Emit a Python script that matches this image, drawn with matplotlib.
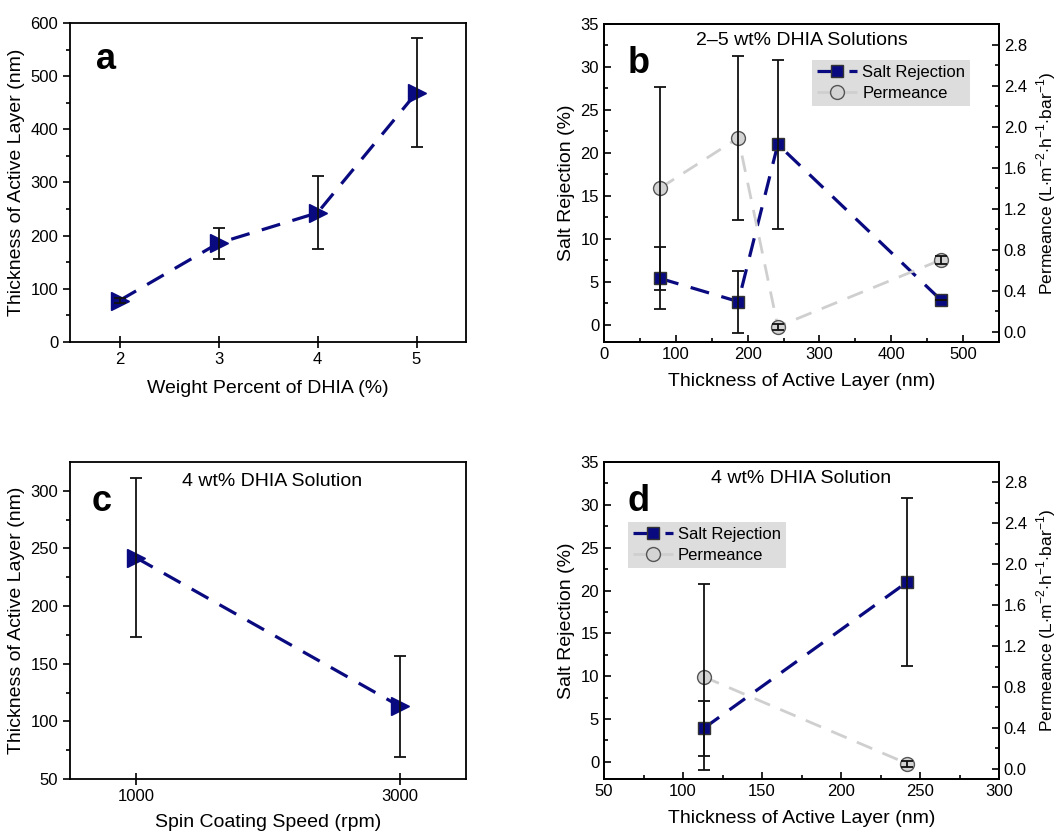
import numpy as np
import matplotlib
matplotlib.use('Agg')
import matplotlib.pyplot as plt

plt.rcParams['font.family'] = ['Liberation Sans', 'DejaVu Sans']
plt.rcParams['font.size'] = 12
plt.rcParams['mathtext.fontset'] = 'custom'
plt.rcParams['mathtext.rm'] = 'Liberation Sans'

navy = '#0a0a80'
grey_line = '#cfcfcf'
grey_fill = '#d4d4d4'

# panel a
wt = [2, 3, 4, 5]
thick_a = [78, 186, 243, 469]
thick_a_err = [4, 29, 69, 103]

# panel b
b_x = [78, 187, 242, 469]
b_rej = [5.4, 2.7, 21.0, 2.9]
b_rej_err = [3.6, 3.6, 9.8, 0.0]
b_perm = [1.40, 1.89, 0.05, 0.70]
b_perm_err = [0.99, 0.80, 0.03, 0.04]

# panel c
speed = [1000, 3000]
thick_c = [242, 113]
thick_c_err = [69, 44]

# panel d
d_x = [113, 242]
d_rej = [3.9, 21.0]
d_rej_err = [3.2, 9.8]
d_perm = [0.90, 0.05]
d_perm_err = [0.91, 0.03]

fig = plt.figure(figsize=(10.56, 8.32), dpi=100)
W, H = 1056, 832
def place(l, t, r, b):
    return fig.add_axes([l / W, 1 - b / H, (r - l) / W, (b - t) / H])

axa = place(70, 23, 466, 342)
axb = place(604, 24, 999, 342)
axc = place(70, 462, 466, 779)
axd = place(604, 462, 999, 779)

TICK = 12
LAB = 14

def thick_panel(ax, x, y, err):
    ax.errorbar(x, y, yerr=err, fmt='none', ecolor='#111111', elinewidth=1.3, capsize=4, capthick=1.3, zorder=4)
    ax.plot(x, y, ls=(0, (6, 4)), color=navy, lw=2.3, marker='>', ms=13,
            mfc=navy, mec=navy, zorder=3)
    ax.tick_params(direction='out', length=5, width=1.2, labelsize=TICK)
    ax.tick_params(which='minor', direction='out', length=3, width=1.2)
    for s in ax.spines.values():
        s.set_linewidth(1.3)

thick_panel(axa, wt, thick_a, thick_a_err)
axa.set_xlim(1.5, 5.5)
axa.set_ylim(0, 600)
axa.set_xticks(wt)
axa.set_yticks(np.arange(0, 601, 100))
axa.set_yticks(np.arange(50, 600, 100), minor=True)
axa.tick_params(axis='x', direction='inout', length=8)
axa.set_xlabel('Weight Percent of DHIA (%)', fontsize=LAB, labelpad=9)
axa.set_ylabel('Thickness of Active Layer (nm)', fontsize=LAB)
axa.text(0.065, 0.94, 'a', transform=axa.transAxes, fontsize=26, fontweight='bold', va='top')

thick_panel(axc, speed, thick_c, thick_c_err)
axc.set_xlim(500, 3500)
axc.set_ylim(50, 325)
axc.set_xticks(speed)
axc.set_yticks(np.arange(50, 301, 50))
axc.set_yticks(np.arange(75, 325, 50), minor=True)
axc.tick_params(axis='x', direction='inout', length=8)
axc.set_xlabel('Spin Coating Speed (rpm)', fontsize=LAB, labelpad=7)
axc.set_ylabel('Thickness of Active Layer (nm)', fontsize=LAB)
axc.text(0.055, 0.93, 'c', transform=axc.transAxes, fontsize=26, fontweight='bold', va='top')
axc.text(0.51, 0.965, '4 wt% DHIA Solution', transform=axc.transAxes, fontsize=LAB, ha='center', va='top')

def perf_panel(ax, x, rej, rej_err, perm, perm_err, letter, title, leg_anchor):
    ax2 = ax.twinx()
    ax.errorbar(x, rej, yerr=rej_err, fmt='none', ecolor='#111111', elinewidth=1.3, capsize=4, capthick=1.3, zorder=4)
    l1, = ax.plot(x, rej, ls=(0, (6, 4)), color=navy, lw=2.3, marker='s', ms=9,
                  mfc=navy, mec='#333333', mew=1, label='Salt Rejection', zorder=3)
    ax2.errorbar(x, perm, yerr=perm_err, fmt='none', ecolor='#111111', elinewidth=1.3, capsize=4, capthick=1.3, zorder=4)
    l2, = ax2.plot(x, perm, ls=(0, (6, 4)), color=grey_line, lw=2.0, marker='o', ms=10,
                   mfc=grey_fill, mec='#555555', mew=1, label='Permeance', zorder=3)
    ax.set_ylim(-2, 35)
    ax.set_yticks(np.arange(0, 36, 5))
    ax.set_yticks(np.arange(2.5, 35, 5), minor=True)
    ax2.set_ylim(-0.1, 3.0)
    ax2.set_yticks(np.arange(0, 2.81, 0.4))
    ax2.set_yticks(np.arange(0.2, 2.9, 0.4), minor=True)
    ax2.set_yticklabels(['%.1f' % v for v in np.arange(0, 2.81, 0.4)])
    for a in (ax, ax2):
        a.tick_params(direction='in', length=5, width=1.2, labelsize=TICK)
        a.tick_params(which='minor', direction='in', length=3, width=1.2)
        for s in a.spines.values():
            s.set_linewidth(1.3)
    ax.set_ylabel('Salt Rejection (%)', fontsize=LAB)
    ax2.set_ylabel(r'Permeance (L$\cdot$m$^{\mathrm{-2}}$$\cdot$h$^{\mathrm{-1}}$$\cdot$bar$^{\mathrm{-1}}$)',
                   fontsize=12.5, labelpad=5)
    ax.set_xlabel('Thickness of Active Layer (nm)', fontsize=LAB, labelpad=8)
    ax.text(0.06, 0.93, letter, transform=ax.transAxes, fontsize=26, fontweight='bold', va='top')
    ax.text(0.5, 0.975, title, transform=ax.transAxes, fontsize=LAB, ha='center', va='top')
    leg = ax2.legend([l1, l2], ['Salt Rejection', 'Permeance'], loc='upper left',
                     bbox_to_anchor=leg_anchor, frameon=True,
                     fancybox=False, fontsize=12, handlelength=2.4, borderpad=0.3,
                     labelspacing=0.35, handletextpad=0.3, borderaxespad=0.0)
    leg.get_frame().set_facecolor('#dddddd')
    leg.get_frame().set_edgecolor('none')
    leg.get_frame().set_alpha(1)
    return ax2

perf_panel(axb, b_x, b_rej, b_rej_err, b_perm, b_perm_err, 'b', '2\u20135 wt% DHIA Solutions', (0.527, 0.887))
axb.set_xlim(0, 550)
axb.set_xticks(np.arange(0, 501, 100))
axb.set_xticks(np.arange(50, 550, 100), minor=True)

perf_panel(axd, d_x, d_rej, d_rej_err, d_perm, d_perm_err, 'd', '4 wt% DHIA Solution', (0.061, 0.81))
axd.set_xlim(50, 300)
axd.set_xticks(np.arange(50, 301, 50))
axd.set_xticks(np.arange(75, 300, 50), minor=True)

fig.savefig('out.png', dpi=100)
